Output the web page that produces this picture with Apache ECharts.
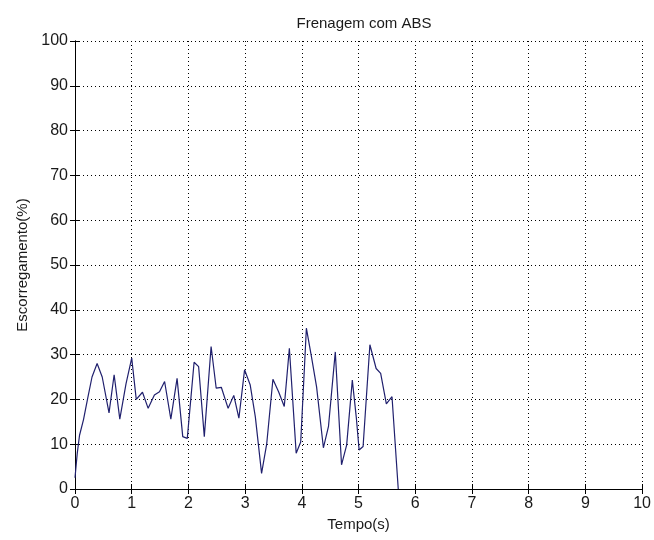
<!DOCTYPE html>
<html>
<head>
<meta charset="utf-8">
<script src="https://cdn.jsdelivr.net/npm/echarts@6/dist/echarts.min.js"></script>
<style>
  html, body { margin: 0; padding: 0; background: #ffffff; }
  #chart { width: 654px; height: 540px; }
</style>
</head>
<body>
<div id="chart"></div>
<script>
// Wheel slip during ABS braking
const timeS = [
  0.00, 0.04, 0.08, 0.15, 0.22, 0.30, 0.39, 0.48, 0.60, 0.69,
  0.79, 0.90, 1.00, 1.08, 1.19, 1.29, 1.40, 1.49, 1.58, 1.69,
  1.80, 1.90, 1.98, 2.10, 2.18, 2.28, 2.40, 2.49, 2.58, 2.70,
  2.80, 2.89, 2.99, 3.09, 3.18, 3.29, 3.38, 3.49, 3.59, 3.69,
  3.78, 3.90, 3.98, 4.08, 4.17, 4.26, 4.38, 4.47, 4.59, 4.70,
  4.79, 4.89, 4.96, 5.01, 5.08, 5.20, 5.31, 5.39, 5.49, 5.59,
  5.70
];
const slipPct = [
  2.5, 8, 12, 15.5, 20, 25, 28, 25, 17, 25.5,
  15.6, 23.5, 29.2, 20, 21.6, 18, 21, 21.7, 24, 15.6,
  24.7, 11.7, 11.3, 28.3, 27.3, 11.7, 31.8, 22.5, 22.7, 18,
  20.9, 15.8, 26.6, 23.2, 16.1, 3.5, 10, 24.5, 21.7, 18.4,
  31.4, 8, 10.5, 35.9, 29.5, 22.8, 9.2, 14, 30.6, 5.4,
  9.8, 24.3, 16, 8.7, 9.5, 32.2, 26.9, 25.8, 19, 20.6,
  0
];
const titleText = 'Frenagem com ABS';
const xName = 'Tempo(s)';
const yName = 'Escorregamento(%)';

const FONT = '"Liberation Sans", Arial, sans-serif';
const TEXT = '#1a1a1a';

const chart = echarts.init(document.getElementById('chart'), null, { renderer: 'canvas' });

// mirror axes on top and right close the box and carry the inward ticks
const boxAxis = {
  axisLine: { show: true, lineStyle: { color: '#000', width: 1 } },
  axisTick: { show: true, inside: true, length: 5, lineStyle: { color: '#000' } },
  axisLabel: { show: false },
  splitLine: { show: false }
};

chart.setOption({
  animation: false,
  backgroundColor: '#ffffff',
  title: {
    text: titleText,
    left: 359,
    textAlign: 'center',
    top: 11,
    textStyle: { fontFamily: FONT, fontSize: 15, fontWeight: 'normal', color: TEXT }
  },
  grid: { left: 75, right: 11, top: 41, bottom: 51 },
  xAxis: [
    {
      type: 'value', min: 0, max: 10, interval: 1,
      name: xName, nameLocation: 'middle', nameGap: 28,
      nameTextStyle: { fontFamily: FONT, fontSize: 15, color: TEXT },
      axisLine: { show: true, onZero: false, lineStyle: { color: '#000', width: 1 } },
      axisTick: { show: true, inside: true, length: 5, lineStyle: { color: '#000' } },
      axisLabel: { fontFamily: FONT, fontSize: 16, color: TEXT, margin: 7 },
      splitLine: { show: true, lineStyle: { color: '#000', type: [1, 3], width: 1 } }
    },
    Object.assign({ type: 'value', min: 0, max: 10, interval: 1, position: 'top' }, boxAxis)
  ],
  yAxis: [
    {
      type: 'value', min: 0, max: 100, interval: 10,
      name: yName, nameLocation: 'middle', nameGap: 44,
      nameTextStyle: { fontFamily: FONT, fontSize: 15, color: TEXT },
      axisLine: { show: true, lineStyle: { color: '#000', width: 1 } },
      axisTick: { show: true, inside: true, length: 5, lineStyle: { color: '#000' } },
      axisLabel: { fontFamily: FONT, fontSize: 16, color: TEXT, margin: 7 },
      splitLine: { show: true, lineStyle: { color: '#000', type: [1, 3], width: 1 } }
    },
    Object.assign({ type: 'value', min: 0, max: 100, interval: 10, position: 'right' }, boxAxis)
  ],
  series: [{
    type: 'line',
    data: timeS.map((t, i) => [t, slipPct[i]]),
    showSymbol: false,
    lineStyle: { color: '#20206e', width: 1.2 },
    clip: true
  }]
});
</script>
</body>
</html>
